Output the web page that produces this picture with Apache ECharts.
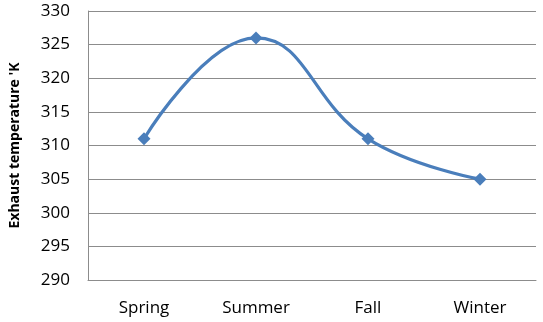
<!DOCTYPE html>
<html><head><meta charset="utf-8">
<script src="https://cdn.jsdelivr.net/npm/echarts@6/dist/echarts.min.js"></script>
<style>html,body{margin:0;padding:0;background:#fff}#c{width:543px;height:322px}</style>
</head><body><div id="c"></div>
<script>
const categories = ["Spring", "Summer", "Fall", "Winter"];
const exhaustTemp = [311, 326, 311, 305];
const yTicks = { min: 290, max: 330, interval: 5 };
const yAxisName = "Exhaust temperature 'K";

const chart = echarts.init(document.getElementById('c'), null, { renderer: 'canvas' });
chart.setOption({
  animation: false,
  grid: { left: 87, right: 7, top: 11, bottom: 42 },
  xAxis: {
    type: 'category', data: categories, boundaryGap: true,
    axisLine: { show: true, lineStyle: { color: '#8c8c8c', width: 1 } },
    axisTick: { show: false },
    axisLabel: { color: '#000', fontSize: 17, fontFamily: 'Open Sans', margin: 20 }
  },
  yAxis: {
    type: 'value', min: yTicks.min, max: yTicks.max, interval: yTicks.interval,
    name: yAxisName, nameLocation: 'middle', nameGap: 66, nameRotate: 90,
    nameTextStyle: { color: '#000', fontSize: 14, fontWeight: 'bold', fontFamily: 'Open Sans' },
    axisLine: { show: true, lineStyle: { color: '#8c8c8c', width: 1 } },
    axisTick: { show: false },
    axisLabel: { color: '#000', fontSize: 17, fontFamily: 'Open Sans', margin: 18 },
    splitLine: { show: true, lineStyle: { color: '#8c8c8c', width: 1 } }
  },
  series: [{
    type: 'line', data: exhaustTemp, smooth: 0.45,
    symbol: 'diamond', symbolSize: 13,
    lineStyle: { color: '#4a7ebb', width: 3.2 },
    itemStyle: { color: '#4a7ebb' }
  }]
});
</script></body></html>
